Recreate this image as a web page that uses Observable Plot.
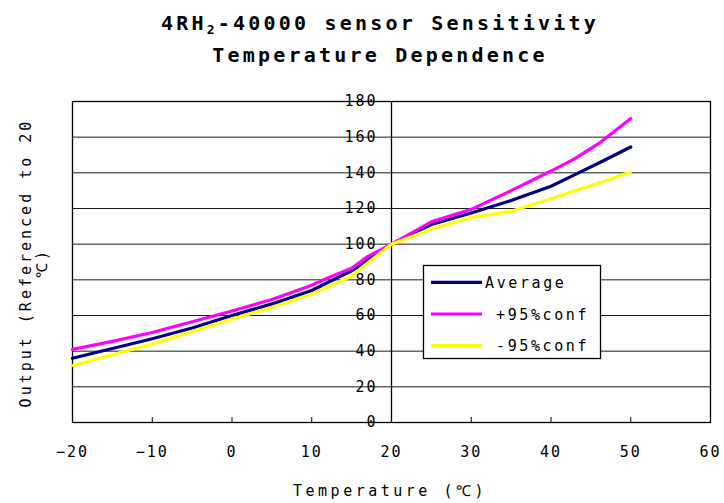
<!DOCTYPE html>
<html><head><meta charset="utf-8">
<script src="https://cdn.jsdelivr.net/npm/d3@7"></script>
<script src="https://cdn.jsdelivr.net/npm/@observablehq/plot@0.6"></script>
<style>
body{margin:0;background:#fff;}
.tick-lbl{letter-spacing:2px;}
</style></head><body><div id="chart"></div>
<script>
const temperatures = [-20,-15,-10,-5,0,5,10,12,15,17,20,25,30,35,40,43,46,50];
const average = [36,41.5,47,53,60,66.5,74,78.5,85,91,100,111,117.5,124.5,132.5,139,145.5,154.5];
const plus95  = [41,45.5,50.5,56.5,62.5,69,77,81,86.5,93,100,112.5,119.5,130,141,148,156.5,170.5];
const minus95 = [32,38,44,51,58,64.5,72,76,82,89.5,100,108.5,115,118.5,125.5,130,134.3,140.5];
const seriesNames = ["Average","+95%conf","-95%conf"];
const seriesColors = ["#000080","#ff00ff","#ffff00"];
const xTicks = [-20,-10,0,10,20,30,40,50,60];
const yTicks = [0,20,40,60,80,100,120,140,160,180];
const yAxisAt = 20;
const titleLine1 = ["4RH","2","-40000 sensor Sensitivity"];
const titleLine2 = "Temperature Dependence";
const xLabel = "Temperature (℃)";
const yLabelLines = ["Output (Referenced to 20","℃)"];

const rows = [];
[average, plus95, minus95].forEach((vals, i) =>
  temperatures.forEach((t, j) => rows.push({series: seriesNames[i], t, v: vals[j]})));

const FONT = "'DejaVu Sans Mono', 'Liberation Mono', monospace";
const plot = Plot.plot({
  width: 724, height: 503,
  marginLeft: 72, marginRight: 14, marginTop: 101, marginBottom: 81,
  style: {fontFamily: FONT, fontSize: "15px", background: "#fff", color: "#000"},
  x: {domain: [-20, 60], label: null},
  y: {domain: [0, 180], label: null, axis: null},
  color: {domain: seriesNames, range: seriesColors},
  marks: [
    Plot.ruleY(yTicks, {stroke: "#000", strokeWidth: 1, strokeOpacity: 0.9}),
    Plot.ruleX([yAxisAt], {stroke: "#000", strokeWidth: 1.3}),
    Plot.frame({stroke: "#000", strokeWidth: 1.3}),
    Plot.axisX({ticks: xTicks, tickSize: 5, dy: -5, tickFormat: () => "", stroke: "#000", strokeOpacity: 1}),
    Plot.axisX({ticks: xTicks, tickSize: 0, tickPadding: 24, fontSize: 15, fill: "#000", className: "xlbl"}),
    Plot.text(yTicks, {x: () => yAxisAt, y: d => d, text: d => String(d), textAnchor: "end", dx: -14, fontSize: 15, fill: "#000", className: "ylbl"}),
    Plot.line(rows, {x: "t", y: "v", z: "series", stroke: "series", strokeWidth: 3.2, curve: "linear"})
  ]
});
document.getElementById("chart").appendChild(plot);
const svg = d3.select(plot);
svg.selectAll(".xlbl text, .ylbl text").attr("class", "tick-lbl");

// Title
const t1 = svg.append("text").attr("x", 380).attr("y", 30).attr("text-anchor", "middle")
  .attr("font-family", FONT).attr("font-weight", "bold").attr("font-size", 20).attr("letter-spacing", "3.2px").attr("fill", "#000");
t1.append("tspan").text(titleLine1[0]);
t1.append("tspan").attr("dy", 4).attr("font-size", 13).text(titleLine1[1]);
t1.append("tspan").attr("dy", -4).text(titleLine1[2]);
svg.append("text").attr("x", 380).attr("y", 62).attr("text-anchor", "middle")
  .attr("font-family", FONT).attr("font-weight", "bold").attr("font-size", 20).attr("letter-spacing", "3.2px").attr("fill", "#000")
  .text(titleLine2);

// Axis titles
svg.append("text").attr("x", 390).attr("y", 496).attr("text-anchor", "middle")
  .attr("font-family", FONT).attr("font-size", 15).attr("letter-spacing", "3.5px").attr("fill", "#000").text(xLabel);
yLabelLines.forEach((s, i) => {
  svg.append("text").attr("transform", `translate(${31 + i * 16},263) rotate(-90)`).attr("text-anchor", "middle")
    .attr("font-family", FONT).attr("font-size", 15).attr("letter-spacing", "3px").attr("fill", "#000").text(s);
});

// Legend
const lg = svg.append("g");
lg.append("rect").attr("x", 423.5).attr("y", 265.5).attr("width", 177).attr("height", 93)
  .attr("fill", "#fff").attr("stroke", "#000").attr("stroke-width", 1.3);
const textX = [485, 496, 496];
seriesNames.forEach((name, i) => {
  const yy = 282.3 + i * 31.7;
  lg.append("line").attr("x1", 431).attr("x2", 482).attr("y1", yy).attr("y2", yy)
    .attr("stroke", seriesColors[i]).attr("stroke-width", 3.2);
  lg.append("text").attr("x", textX[i]).attr("y", yy + 5.5).attr("text-anchor", "start")
    .attr("font-family", FONT).attr("font-size", 15).attr("letter-spacing", "2.6px").attr("fill", "#000").text(name);
});
</script></body></html>
